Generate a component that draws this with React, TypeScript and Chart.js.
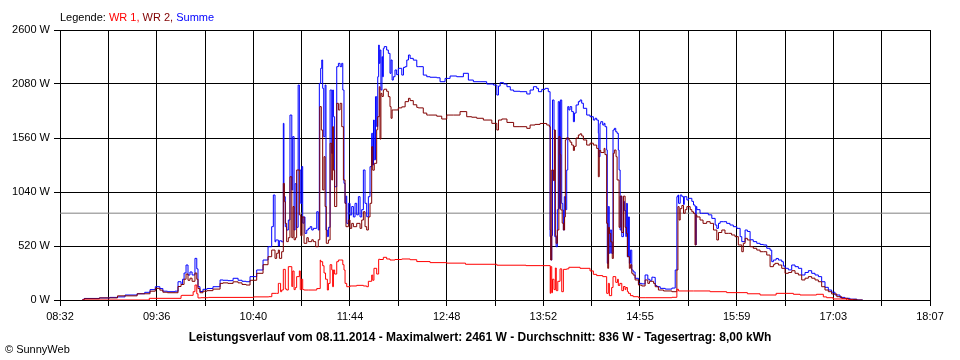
import React, { useEffect, useRef } from 'react';
import { Chart, registerables } from 'chart.js';

Chart.register(...registerables);

// x axis: minutes of the day (08:32 = 512, 18:07 = 1087)
const axisStart = 512;
const axisEnd = 1087;
const tickLabels = ['08:32', '09:36', '10:40', '11:44', '12:48', '13:52', '14:55', '15:59', '17:03', '18:07'];
const yTickValues = [0, 520, 1040, 1560, 2080, 2600];
const averageW = 836;

const titleText = 'Leistungsverlauf vom 08.11.2014 - Maximalwert: 2461 W - Durchschnitt: 836 W - Tagesertrag: 8,00 kWh';

// Summe (blue)
const sumTimes = [
  527, 528, 538, 545, 550, 555, 563, 568, 571.5, 575, 578, 580, 583, 588, 590, 592, 593, 594, 595.3, 596.6,
  597.9, 599.3, 601.2, 602.4, 603.2, 604.5, 606.5, 609.2, 613.1, 617.8, 619.7, 623, 626.4, 629.7, 632.3, 635, 637.6, 642, 646.2, 649.5,
  651.9, 653, 654.1, 654.6, 656.3, 657, 658.5, 659.6, 660, 660.9, 661.8, 662.9, 664, 665.2, 665.8, 666.7, 667.4, 668.4, 669.4, 670.2,
  671.1, 671.8, 672.4, 673.3, 673.9, 675.1, 676.1, 677.3, 678.4, 679.4, 681.7, 682.7, 683.4, 684.3, 685, 685.6, 686.3, 687.2, 687.8, 688.7,
  689.4, 690.5, 691.6, 692.2, 692.7, 693.5, 694.9, 696, 697.1, 698.2, 698.9, 699.7, 700.4, 701, 701.5, 702.6, 703.7, 704.8, 705.9, 707,
  708.1, 709.2, 710.3, 711.4, 712.5, 713.6, 714.7, 715.8, 716.9, 718, 718.7, 719.2, 719.7, 720.5, 721.3, 722, 722.6, 723, 723.5, 724.1,
  724.8, 725.2, 725.7, 726.3, 727.9, 729, 730.1, 730.8, 731.5, 732.3, 733.4, 734.5, 735.6, 736.7, 737.9, 739, 740.1, 741.2, 742.3, 743.4,
  745.5, 747.8, 748.8, 752.1, 754.4, 756.6, 761, 763.2, 766.5, 769.8, 774.2, 778.6, 781.9, 785.2, 789.6, 794, 798.5, 800.7, 801.8, 802.9,
  805.2, 807.4, 809.6, 811.8, 816, 820.5, 822.7, 824.9, 827.1, 828.2, 830.4, 832.6, 834.7, 835.9, 836.5, 837, 837.5, 838.5, 839, 839.9,
  840.7, 841.3, 842.1, 842.7, 843.6, 844.3, 844.7, 845.3, 846, 846.9, 847.6, 848.3, 849.1, 850.2, 851.3, 852, 853.1, 854.6, 855.7, 856.8,
  857.9, 860.1, 862.3, 864.5, 865.6, 866.7, 867.8, 868.1, 868.9, 869.4, 870.7, 871.6, 872.2, 873.3, 873.7, 874.4, 875, 875.7, 876.6, 877.5,
  878.4, 879.3, 880.2, 881, 881.5, 882.2, 882.8, 883.3, 884.4, 885, 886, 886.3, 887, 887.7, 888.3, 889, 889.9, 890.8, 892.1, 894.3,
  896.5, 898.7, 900.5, 901.6, 903.2, 904.3, 905.4, 906.5, 908.7, 912, 916.4, 918.6, 919.7, 920.4, 920.8, 921.9, 923, 924.1, 924.6, 926.3,
  927.4, 929.6, 930.7, 931.7, 932.2, 932.4, 932.9, 935, 936.1, 938.3, 940.5, 942.8, 945, 946.1, 947.2, 948.3, 950.4, 952.6, 954.8, 957,
  959.3, 961.5, 962.6, 964.8, 966.3, 968.1, 970.2, 972.5, 974.7, 976.9, 979.1, 981.3, 982.4, 983.5, 985.3, 986.8, 989, 990.1, 991.2, 993.4,
  995.6, 997.8, 1000, 1002.2, 1004.4, 1006.6, 1008.8, 1011, 1013.2, 1015.4, 1017.6, 1019.8, 1022, 1024.2, 1027.5, 1030.8, 1034.1, 1038.6, 1042.5,
];
const sumValues = [
  0, 5, 15, 20, 25, 30, 48, 60, 74, 100, 128, 110, 85, 80, 85, 176, 150, 200, 260, 337,
  240, 270, 241, 401, 300, 128, 82, 103, 111, 128, 193, 190, 186, 209, 190, 180, 176, 225, 289, 385,
  513, 706, 1011, 560, 578, 520, 570, 560, 1701, 995, 706, 674, 770, 1781, 1060, 1573, 674, 1120, 700, 2070,
  1252, 930, 1285, 740, 800, 642, 674, 690, 706, 674, 690, 850, 674, 2086, 2231, 2311, 2038, 1573, 2070, 674,
  610, 700, 2022, 1412, 2022, 1765, 1091, 2247, 2279, 2247, 2279, 2022, 1123, 931, 1000, 738, 931, 819, 900, 800,
  931, 820, 995, 800, 870, 1252, 931, 802, 995, 1284, 1605, 1300, 1733, 1350, 1958, 1670, 2150, 2455, 2279, 2407,
  2022, 2343, 2150, 2423, 2440, 2407, 2375, 2183, 2311, 2118, 2150, 2215, 2170, 2231, 2231, 2166, 2240, 2247, 2311, 2359,
  2327, 2310, 2247, 2247, 2166, 2150, 2145, 2140, 2102, 2134, 2157, 2150, 2183, 2118, 2102, 2102, 2080, 2070, 1974, 2060,
  2093, 2080, 2054, 2022, 2010, 2006, 1984, 2022, 2054, 2038, 2006, 2028, 2038, 2006, 610, 385, 620, 1926, 1637, 610,
  513, 870, 1910, 880, 1926, 930, 867, 674, 995, 870, 1252, 1862, 1830, 1862, 1814, 1717, 1800, 1878, 1910, 1926,
  1895, 1846, 1781, 1765, 1733, 1750, 1733, 1605, 1380, 1700, 1717, 1685, 1701, 1669, 1444, 353, 900, 450, 674, 449,
  1637, 1653, 1620, 1605, 1444, 1252, 674, 1000, 610, 950, 860, 610, 930, 417, 800, 353, 480, 289, 270, 209,
  160, 155, 241, 200, 190, 220, 218, 140, 128, 112, 105, 115, 289, 995, 1011, 931, 1011, 995, 920, 995,
  963, 979, 950, 915, 899, 530, 899, 870, 835, 835, 835, 820, 786, 722, 690, 738, 754, 754, 738, 722,
  706, 690, 610, 562, 674, 660, 580, 562, 546, 535, 530, 498, 480, 369, 385, 400, 385, 369, 327, 305,
  290, 337, 321, 305, 241, 265, 282, 257, 241, 225, 176, 122, 96, 75, 48, 25, 16, 8, 0,
];

// WR 2 (dark red)
const wr2Times = [
  527, 528, 538, 550, 563, 571.5, 575, 578, 580, 583, 590, 592, 594, 595.3, 596.6, 597.9, 599.3, 601.2, 602.4, 603.2,
  604.5, 606.5, 609.2, 613.1, 617.8, 619.7, 623, 626.4, 629.7, 632.3, 635, 637.6, 642, 646.2, 649.5, 651.9, 654.1, 655.2, 656.3, 657,
  658.5, 659.6, 660.3, 660.9, 661.8, 662.9, 664, 665.2, 666, 666.7, 667.6, 668.4, 670.2, 671.1, 672, 673.3, 675.1, 676.1, 678.4, 679.4,
  681, 682.7, 683.7, 684.7, 685.6, 686.5, 687.2, 688, 689.4, 690.5, 691.6, 692.2, 692.7, 693.5, 694.9, 696, 697.1, 698.2, 699.3, 700.4,
  701, 702.6, 703.7, 704.8, 705.9, 708.1, 710.3, 711.4, 712.5, 713.6, 714.7, 715.8, 716.9, 718, 718.7, 719.7, 721.3, 722, 723, 723.5,
  724.1, 724.8, 725.7, 726.3, 727.9, 729, 730.1, 730.8, 731.5, 732.3, 733.4, 735.6, 737.9, 740.1, 742.3, 743.4, 745.5, 747.8, 748.8, 752.1,
  754.4, 755.5, 761, 764.3, 767.6, 772, 776.4, 780.8, 784.1, 787.4, 791.8, 797.4, 800.7, 801.8, 804, 807.4, 811.8, 816, 820.5, 822.7,
  826, 829.3, 833.7, 835.4, 836, 836.3, 837, 838.1, 838.7, 839.4, 839.9, 840.7, 841.7, 842.5, 843, 843.9, 844.7, 845.5, 846, 846.6,
  848.3, 849.1, 850.2, 851.3, 852, 853.1, 854.6, 855.7, 856.8, 857.9, 860.1, 862.3, 864.5, 866.7, 867.8, 868.4, 869.4, 871.6, 872.2, 873.3,
  874, 874.6, 875.1, 876, 877, 877.7, 878.4, 879.5, 880.2, 881.5, 882.2, 883.3, 884.4, 885.5, 886.3, 887, 888.3, 889, 889.9, 890.8,
  892.1, 894.3, 896.5, 898.7, 900.5, 901.6, 904.3, 905.4, 907.5, 910.9, 916.4, 919.7, 920.4, 921.2, 921.9, 923, 924.1, 925.2, 926.3, 928.5,
  929.6, 930.7, 931.7, 932.4, 932.9, 935, 937, 939.4, 941.7, 943.9, 946.1, 947.2, 949.4, 951.5, 953.7, 955.9, 958.1, 960.3, 962.6, 963.6,
  964.8, 966.3, 968.1, 970.2, 972.5, 974.7, 976.9, 979.1, 981.3, 983.5, 984.5, 986.8, 989, 991.2, 993.4, 995.6, 997.8, 1000, 1002.2, 1004.4,
  1006.6, 1008.8, 1011, 1013.2, 1015.4, 1017.6, 1019.8, 1022, 1025.4, 1028.6, 1033, 1038.6, 1042.5,
];
const wr2Values = [
  0, 3, 12, 20, 40, 60, 85, 112, 95, 75, 70, 130, 150, 200, 250, 190, 210, 180, 260, 200,
  110, 70, 85, 90, 105, 160, 165, 160, 175, 165, 150, 144, 190, 257, 340, 417, 481, 401, 450, 481,
  401, 465, 1123, 947, 738, 562, 600, 1187, 600, 900, 580, 600, 1252, 820, 620, 800, 546, 600, 562, 580,
  562, 513, 580, 1862, 1637, 1060, 1380, 900, 546, 578, 1509, 1156, 1669, 1250, 900, 1894, 1830, 1894, 1669, 1156,
  931, 706, 770, 690, 738, 706, 738, 690, 770, 850, 706, 674, 800, 931, 1476, 1250, 1316, 1640, 1765, 2054,
  1550, 1990, 1960, 2022, 2030, 2010, 1958, 1862, 1750, 1830, 1830, 1830, 1850, 1860, 1910, 1942, 1920, 1880, 1855, 1850,
  1800, 1781, 1781, 1770, 1743, 1781, 1781, 1814, 1765, 1760, 1750, 1733, 1701, 1637, 1733, 1743, 1710, 1669, 1669, 1653,
  1685, 1691, 1700, 1685, 1669, 674, 385, 1252, 1150, 1637, 620, 546, 674, 1573, 1400, 867, 740, 674, 800, 1541,
  1560, 1541, 1520, 1492, 1440, 1480, 1560, 1589, 1600, 1580, 1541, 1492, 1510, 1492, 1460, 1187, 1440, 1420, 1460, 1400,
  738, 305, 700, 640, 560, 400, 1412, 1444, 1380, 1156, 700, 1000, 650, 1000, 700, 640, 417, 305, 340, 257,
  240, 193, 144, 135, 193, 160, 180, 160, 128, 96, 87, 80, 289, 899, 770, 880, 910, 835, 870, 899,
  870, 850, 835, 530, 820, 800, 770, 738, 754, 738, 674, 578, 650, 674, 642, 642, 626, 610, 530, 465,
  546, 594, 578, 513, 498, 481, 465, 465, 433, 321, 340, 353, 337, 305, 257, 265, 282, 257, 241, 193,
  210, 225, 210, 193, 176, 128, 96, 80, 58, 32, 16, 6, 0,
];

// WR 1 (red)
const wr1Times = [
  527, 571, 571.5, 592, 592.5, 600, 601.2, 602.4, 603.2, 605, 610, 640, 650, 652, 655, 656.3, 657, 657.8, 658.5, 659.6,
  660.9, 661.8, 662.9, 665.2, 665.8, 666.7, 667.5, 668.4, 670.2, 670.8, 671.5, 672.4, 673.3, 676.1, 681.7, 684, 684.3, 685.6, 686.5, 687.5,
  688.7, 689.4, 690.5, 691.6, 692.2, 692.7, 693.5, 694.9, 696, 697.5, 698.9, 699.7, 700.4, 701.5, 703.7, 708.1, 712.5, 714.7, 715.8, 718,
  718.7, 719.5, 721.3, 722.6, 723.5, 725.7, 727.9, 730.1, 733.4, 737.9, 743.4, 747.8, 756.6, 767.6, 780, 800.7, 820, 829.3, 836, 836.3,
  837, 837.5, 838.5, 839.4, 840, 841, 842.5, 843.6, 844.7, 846.9, 848.3, 855.7, 862.3, 864.5, 866.7, 870.7, 873.3, 874.4, 875.1, 876.6,
  877.5, 879.3, 880.5, 881, 882, 883.3, 884.4, 885.5, 886, 887, 887.7, 889, 890.8, 894.3, 898.7, 916.4, 919.7, 920.8, 930.7, 941.7,
  952.6, 966.3, 974.7, 985.3, 996.7, 1001.1, 1007.7, 1012, 1016.5, 1018.7, 1023, 1031.9, 1036.3,
];
const wr1Values = [
  0, 0, 16, 16, 42, 45, 80, 144, 60, 20, 22, 25, 30, 32, 64, 64, 160, 160, 80, 96,
  295, 106, 96, 321, 130, 279, 100, 120, 225, 280, 100, 200, 100, 96, 96, 110, 385, 369, 330, 260,
  200, 96, 160, 340, 290, 128, 289, 250, 369, 385, 385, 340, 289, 160, 128, 135, 141, 135, 128, 180,
  240, 190, 305, 250, 392, 390, 411, 395, 385, 390, 395, 388, 370, 360, 355, 344, 335, 331, 331, 64,
  321, 70, 200, 100, 308, 90, 180, 300, 80, 295, 300, 315, 305, 280, 247, 235, 225, 64, 160, 42,
  120, 225, 170, 200, 140, 160, 90, 130, 100, 120, 80, 64, 42, 32, 22, 22, 26, 103, 87, 87,
  80, 71, 60, 48, 64, 55, 48, 48, 55, 30, 22, 10, 0,
];

const FONT = '"Liberation Sans", Arial, sans-serif';

const xTickValues = Array.from({ length: 19 }, (_, i) => axisStart + ((axisEnd - axisStart) * i) / 18);

function toPoints(times: number[], values: number[]) {
  return times.map((t, i) => ({ x: t, y: values[i] }));
}

export default function App() {
  const canvasRef = useRef<HTMLCanvasElement | null>(null);

  useEffect(() => {
    const canvas = canvasRef.current;
    if (!canvas) return;
    const gridCfg = { color: '#000000', lineWidth: 1, tickLength: 6, drawTicks: true };
    const borderCfg = { color: '#000000', width: 1 };
    const seriesStyle = { borderWidth: 1, pointRadius: 0, tension: 0, stepped: 'after' as const };
    const chart = new Chart(canvas, {
      type: 'line',
      data: {
        datasets: [
          {
            label: 'WR 1',
            data: toPoints(wr1Times, wr1Values),
            borderColor: '#ff0000',
            backgroundColor: '#ff0000',
            ...seriesStyle,
            order: 1,
          },
          {
            label: 'WR 2',
            data: toPoints(wr2Times, wr2Values),
            borderColor: '#800000',
            backgroundColor: '#800000',
            ...seriesStyle,
            order: 2,
          },
          {
            label: 'Summe',
            data: toPoints(sumTimes, sumValues),
            borderColor: '#0000ff',
            backgroundColor: '#0000ff',
            ...seriesStyle,
            order: 3,
          },
          {
            label: 'Durchschnitt',
            data: [
              { x: axisStart, y: averageW },
              { x: axisEnd, y: averageW },
            ],
            borderColor: '#808080',
            backgroundColor: '#808080',
            borderWidth: 1,
            pointRadius: 0,
            order: 4,
          },
        ],
      },
      options: {
        animation: false,
        responsive: false,
        events: [],
        layout: { padding: { top: 30, right: 30, left: 0, bottom: 0 } },
        plugins: {
          legend: { display: false },
          tooltip: { enabled: false },
          title: { display: false },
        },
        scales: {
          x: {
            type: 'linear',
            min: axisStart,
            max: axisEnd,
            afterBuildTicks: (scale: any) => {
              scale.ticks = xTickValues.map((v) => ({ value: v }));
            },
            afterFit: (scale: any) => {
              scale.height = 60;
            },
            ticks: {
              autoSkip: false,
              maxRotation: 0,
              minRotation: 0,
              padding: 4,
              color: '#000000',
              font: { family: FONT, size: 11 },
              callback: (_v: any, i: number) => (i % 2 === 0 ? tickLabels[i / 2] : ''),
            },
            grid: gridCfg,
            border: borderCfg,
          },
          y: {
            type: 'linear',
            min: 0,
            max: 2600,
            afterBuildTicks: (scale: any) => {
              scale.ticks = yTickValues.map((v) => ({ value: v }));
            },
            afterFit: (scale: any) => {
              scale.width = 60;
            },
            ticks: {
              padding: 4,
              color: '#000000',
              font: { family: FONT, size: 11 },
              callback: (v: any) => `${v} W`,
            },
            grid: gridCfg,
            border: borderCfg,
          },
        },
      },
    } as any);
    return () => chart.destroy();
  }, []);

  return (
    <div
      style={{
        position: 'absolute',
        left: 0,
        top: 0,
        width: 960,
        height: 360,
        background: '#ffffff',
        overflow: 'hidden',
        fontFamily: FONT,
      }}
    >
      <canvas ref={canvasRef} width={960} height={360} style={{ position: 'absolute', left: 0, top: 0, width: 960, height: 360 }} />
      <div style={{ position: 'absolute', left: 60, top: 11, fontSize: 11, lineHeight: '13px', whiteSpace: 'nowrap' }}>
        <span style={{ color: '#000000' }}>Legende: </span>
        <span style={{ color: '#ff0000' }}>WR 1, </span>
        <span style={{ color: '#800000' }}>WR 2, </span>
        <span style={{ color: '#0000ff' }}>Summe</span>
      </div>
      <div
        style={{
          position: 'absolute',
          left: 0,
          width: 960,
          top: 330,
          textAlign: 'center',
          fontSize: 12,
          fontWeight: 'bold',
          lineHeight: '14px',
          whiteSpace: 'nowrap',
          color: '#000000',
        }}
      >
        {titleText}
      </div>
      <div style={{ position: 'absolute', left: 5, top: 343, fontSize: 11, lineHeight: '13px', color: '#000000' }}>
        © SunnyWeb
      </div>
    </div>
  );
}
